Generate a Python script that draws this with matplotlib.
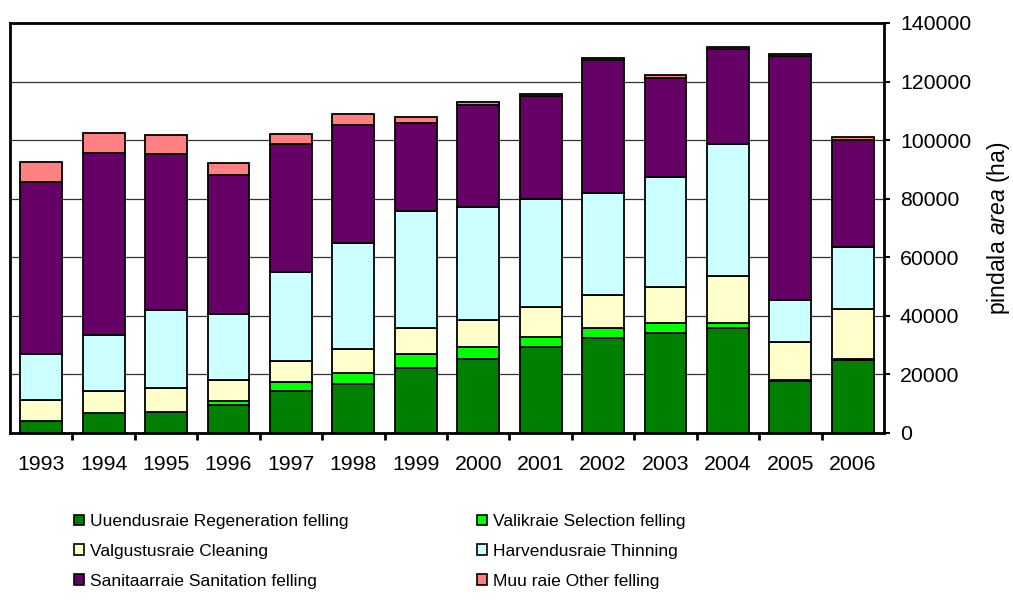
import matplotlib
matplotlib.use("Agg")
import matplotlib.pyplot as plt
from matplotlib.patches import Patch
import numpy as np

plt.rcParams['font.family'] = ['Liberation Sans', 'DejaVu Sans']
plt.rcParams['mathtext.fontset'] = 'custom'
plt.rcParams['mathtext.rm'] = 'Liberation Sans'
plt.rcParams['mathtext.it'] = 'Liberation Sans:italic'

years = ['1993', '1994', '1995', '1996', '1997', '1998', '1999', '2000',
         '2001', '2002', '2003', '2004', '2005', '2006']
regeneration = [4000, 7000, 7100, 9400, 14400, 16800, 22300, 25300, 29200, 32500, 34200, 35700, 17900, 24900]
selection = [0, 0, 0, 1400, 3000, 3800, 4700, 3900, 3600, 3200, 3200, 1900, 200, 200]
cleaning = [7300, 7200, 8200, 7300, 7300, 8200, 8800, 9500, 10200, 11300, 12400, 16000, 13000, 17100]
thinning = [15700, 19200, 26800, 22400, 30200, 36100, 40000, 38600, 36800, 35100, 37700, 45200, 14200, 21200]
sanitation = [58800, 62300, 53300, 47500, 43900, 40400, 30100, 34800, 35400, 45100, 33700, 32200, 83500, 36800]
other = [6700, 6600, 6500, 4300, 3300, 3600, 1900, 900, 700, 700, 1000, 700, 500, 800]

labels = ['Uuendusraie Regeneration felling', 'Valikraie Selection felling',
          'Valgustusraie Cleaning', 'Harvendusraie Thinning',
          'Sanitaarraie Sanitation felling', 'Muu raie Other felling']
colors = ['#008000', '#00FF00', '#FFFFCC', '#CCFFFF', '#660066', '#FF8080']
series = [regeneration, selection, cleaning, thinning, sanitation, other]

fig = plt.figure(figsize=(10.13, 6.06), dpi=100)
ax = fig.add_axes([10/1013, 1-433/606, 874/1013, 410/606])

x = np.arange(len(years))
bottom = np.zeros(len(years))
for vals, c in zip(series, colors):
    ax.bar(x, vals, width=0.67, bottom=bottom, color=c, edgecolor='black',
           linewidth=1.3, zorder=3)
    bottom += np.array(vals)

ax.set_xlim(-0.5, len(years) - 0.5)
ax.set_ylim(0, 140000)
ax.set_yticks(np.arange(0, 140001, 20000))
ax.yaxis.tick_right()
ax.yaxis.set_label_position('right')
ax.tick_params(axis='y', direction='out', length=4.5, width=1.5, labelsize=15.3, pad=7)
ax.grid(axis='y', color='#333333', linewidth=0.9, zorder=0)

ax.set_xticks(x)
ax.set_xticklabels(years)
ax.set_xticks(np.arange(0.5, len(years) - 0.5, 1), minor=True)
ax.tick_params(axis='x', which='major', length=0, labelsize=15.3, pad=16)
ax.tick_params(axis='x', which='minor', direction='out', length=5, width=2)

for s in ax.spines.values():
    s.set_linewidth(2)

ax.set_ylabel(r'pindala $\it{area}$ (ha)', fontsize=16.5, labelpad=10)

leg_font = {'family': 'Liberation Sans', 'size': 12.5}
handles = [Patch(facecolor=c, edgecolor='black', linewidth=1.2) for c in colors]
common = dict(loc='upper left', frameon=False, prop=leg_font, handlelength=0.55,
              handleheight=0.55, handletextpad=0.35, labelspacing=0.85,
              borderpad=0, borderaxespad=0)
leg1 = fig.legend([handles[0], handles[2], handles[4]], [labels[0], labels[2], labels[4]],
                  bbox_to_anchor=(74/1013, 1-514/606), **common)
leg2 = fig.legend([handles[1], handles[3], handles[5]], [labels[1], labels[3], labels[5]],
                  bbox_to_anchor=(477/1013, 1-514/606), **common)

fig.savefig('out.png', dpi=100)
